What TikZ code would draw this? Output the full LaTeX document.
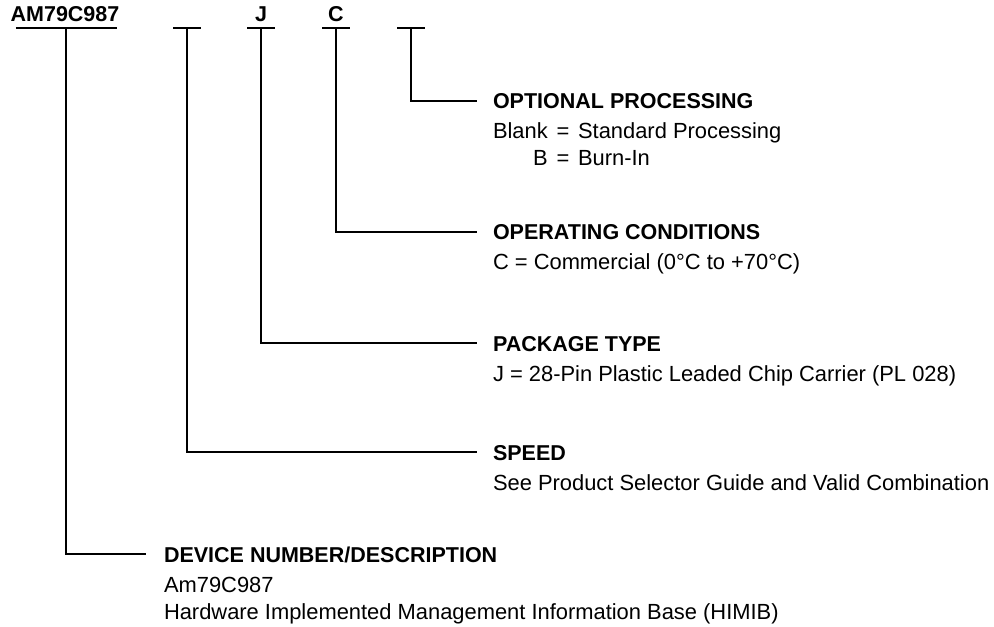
\documentclass[tikz,border=0pt]{standalone}
\usepackage{fontspec}
\setmainfont{Liberation Sans}
\begin{document}
\begin{tikzpicture}[x=1bp,y=-1bp,line width=2bp,
  hd/.style={anchor=base west,inner sep=0pt,font=\fontsize{21.5bp}{24bp}\selectfont\bfseries},
  bd/.style={anchor=base west,inner sep=0pt,font=\fontsize{21.9bp}{24bp}\selectfont},
  tp/.style={anchor=base,inner sep=0pt,font=\fontsize{21.5bp}{24bp}\selectfont\bfseries}]
\useasboundingbox (0,0) rectangle (994,627);
% top part-number labels
\node[tp] (pn) at (65,22) {AM79C987};
\node[tp] (jl) at (261,22) {J};
\node[tp] (cl) at (336,22) {C};
% bar centres
\coordinate (b0) at (66,28);
\coordinate (b1) at (187,28);
\coordinate (b2) at (261,28);
\coordinate (b3) at (336,28);
\coordinate (b4) at (411,28);
\draw ([xshift=-50bp]b0) -- ([xshift=51bp]b0);
\foreach \b in {b1,b2,b3,b4}{\draw ([xshift=-14bp]\b) -- ([xshift=14bp]\b);}
% line ends
\coordinate (e4) at (477,101);
\coordinate (e3) at (477,232);
\coordinate (e2) at (477,343);
\coordinate (e1) at (477,452);
\coordinate (e0) at (146,554);
\draw (b4) |- (e4);
\draw (b3) |- (e3);
\draw (b2) |- (e2);
\draw (b1) |- (e1);
\draw (b0) |- (e0);
% optional processing
\node[hd] (oph) at (492,109) {OPTIONAL PROCESSING};
\node[bd] (op1) at (492,139) {Blank\hspace{0.4em}=\hspace{0.4em}Standard Processing};
\node[bd] (op2) at (492,166) {\phantom{Blank}\llap{B}\hspace{0.4em}=\hspace{0.4em}Burn-In};
% operating conditions
\node[hd] (och) at (492,240) {OPERATING CONDITIONS};
\node[bd] (oc1) at (492,270) {C = Commercial (0°C to +70°C)};
% package type
\node[hd] (pth) at (492,351) {PACKAGE TYPE};
\node[bd] (pt1) at (492,381) {J = 28-Pin Plastic Leaded Chip Carrier (PL 028)};
% speed
\node[hd] (sph) at (492,460) {SPEED};
\node[bd] (sp1) at (492,490) {See Product Selector Guide and Valid Combination};
% device
\node[hd] (dvh) at (163,562) {DEVICE NUMBER/DESCRIPTION};
\node[bd] (dv1) at (163,592) {Am79C987};
\node[bd] (dv2) at (163,619) {Hardware Implemented Management Information Base (HIMIB)};
\end{tikzpicture}
\end{document}
